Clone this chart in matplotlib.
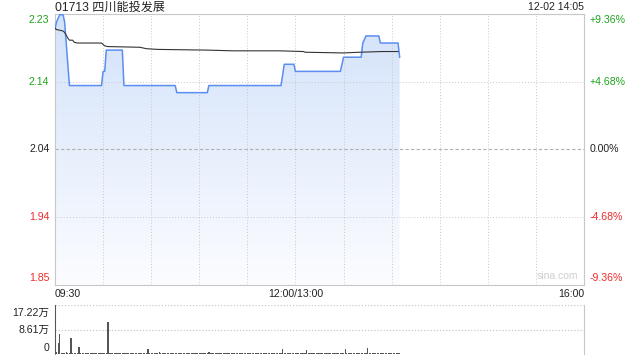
import numpy as np
import matplotlib
matplotlib.use("Agg")
import matplotlib.pyplot as plt
from matplotlib.patches import Polygon

# ---------------- data ----------------
title = "01713 四川能投发展"
stamp = "12-02 14:05"
prev_close = 2.04
pct_levels = [9.36, 4.68, 0.0, -4.68, -9.36]
price_labels = ["2.23", "2.14", "2.04", "1.94", "1.85"]
pct_labels = ["+9.36%", "+4.68%", "0.00%", "-4.68%", "-9.36%"]
x_labels = ["09:30", "12:00/13:00", "16:00"]
x_label_minutes = [0, 150, 330]
session_minutes = 330

price_t = [0, 1, 3, 5, 6, 7, 8, 9, 29, 30, 31, 32, 42, 43, 75, 76, 95, 96, 141, 143,
           149, 150, 178, 179, 180, 191, 192, 194, 202, 203, 214, 215]
price_v = [2.21, 2.22, 2.23, 2.23, 2.22, 2.19, 2.16, 2.13, 2.13, 2.15, 2.15, 2.18, 2.18, 2.13,
           2.13, 2.12, 2.12, 2.13, 2.13, 2.16, 2.16, 2.15, 2.15, 2.16, 2.17, 2.17, 2.19, 2.20,
           2.20, 2.19, 2.19, 2.17]

avg_t = [0, 1, 5, 6, 8, 9, 11, 12, 14, 29, 31, 33, 53, 57, 64, 95, 111, 140, 155, 156,
         180, 190, 204, 214]
avg_v = [2.211, 2.209, 2.207, 2.205, 2.197, 2.194, 2.194, 2.191, 2.190, 2.190, 2.186, 2.185,
         2.184, 2.182, 2.181, 2.180, 2.179, 2.179, 2.178, 2.177, 2.176, 2.177, 2.178, 2.178]

volume = [
    172200, 7000, 41000, 71000, 3500, 3500, 6000, 8000, 6000, 3500,
    57000, 3500, 3000, 3500, 3500, 26000, 3500, 3500, 3000, 3500,
    3500, 3500, 3500, 3000, 3500, 3500, 3500, 3500, 3500, 3500,
    5000, 3500, 3500, 113000, 3500, 3500, 3000, 3500, 3500, 3500,
    3500, 3500, 3500, 4500, 3500, 3500, 3500, 3500, 3000, 3500,
    3500, 3500, 3500, 3500, 3500, 3500, 3500, 3500, 17000, 3500,
    3500, 3500, 3500, 3500, 3500, 8000, 3500, 3500, 3500, 3000,
    3500, 3500, 3500, 3500, 3500, 3500, 3500, 3500, 3500, 3500,
    3500, 3500, 3500, 3500, 3000, 3500, 3500, 3500, 3500, 3500,
    3500, 3500, 3500, 3500, 3500, 3500, 7000, 3500, 3500, 3500,
    3500, 3500, 3500, 3500, 3500, 3500, 3000, 3500, 3500, 3500,
    4500, 3500, 3500, 3500, 3500, 3500, 3500, 3500, 3500, 3500,
    3500, 3500, 3500, 3500, 3500, 3500, 3500, 3000, 3500, 3500,
    3500, 3500, 3500, 3500, 3500, 3500, 3500, 3500, 3500, 3500,
    3500, 3500, 17000, 3500, 3500, 3500, 3500, 3500, 3500, 3500,
    3500, 3500, 3500, 3500, 3500, 3500, 3500, 15000, 3500, 3500,
    3500, 3500, 3500, 3500, 3500, 3000, 3500, 3500, 3500, 3500,
    3500, 3500, 3500, 3500, 3500, 3500, 3500, 3500, 3500, 3500,
    3500, 19000, 3500, 3500, 3500, 3500, 3500, 3500, 3500, 3500,
    3500, 3500, 5000, 3500, 3500, 22000, 3500, 3500, 3500, 3500,
    3500, 3500, 3500, 3500, 3500, 3500, 3500, 3500, 3500, 3500,
    3500, 3500, 3500, 3500, 3500, 6000,
]
vol_max = 172200
vol_labels = ["17.22万", "8.61万", "0"]

# ---------------- style ----------------
W, H = 640, 360
GREEN = "#1fa31f"
RED = "#ee2a2a"
DARK = "#222222"
GRID = "#c8c8c8"
SPINE = "#c8c8c8"
BLUE = "#5b8ef0"
FONT = ["Liberation Sans", "Noto Sans CJK SC", "DejaVu Sans"]
plt.rcParams["font.family"] = FONT

fig = plt.figure(figsize=(W / 100, H / 100), dpi=100)

def fx(px):
    return px / W

def fy(py):
    return 1 - py / H

L, R = 55, 584
T1, B1 = 14, 284.7
T2, B2 = 305, 354.3
ax = fig.add_axes([fx(L), fy(B1), fx(R) - fx(L), fy(T1) - fy(B1)])
axv = fig.add_axes([fx(L), fy(B2), fx(R) - fx(L), fy(T2) - fy(B2)])

ymin = prev_close * (1 + pct_levels[-1] / 100)
ymax = prev_close * (1 + pct_levels[0] / 100)

# gradient fill under price
verts = [(price_t[0], ymin)] + list(zip(price_t, price_v)) + [(price_t[-1], ymin)]
patch = Polygon(verts, closed=True, facecolor="none", edgecolor="none")
ax.add_patch(patch)
top_c = np.array([0.827, 0.886, 0.980])
bot_c = np.array([0.985, 0.990, 1.0])
g = np.linspace(0, 1, 256).reshape(-1, 1, 1)
img = top_c * (1 - g) + bot_c * g
img = np.repeat(img, 2, axis=1)
im = ax.imshow(img, extent=[0, session_minutes, ymin, ymax], aspect="auto",
               origin="upper", zorder=1, interpolation="bilinear")
im.set_clip_path(patch)

ax.plot(price_t, price_v, color=BLUE, lw=1.1, zorder=3)
ax.plot(avg_t, avg_v, color="#333333", lw=0.8, zorder=4)

# grids
for m in range(30, session_minutes, 30):
    ax.axvline(m, color=GRID, lw=0.7, ls=(0, (1, 2)), zorder=2)
for p in pct_levels[1:-1]:
    yv = prev_close * (1 + p / 100)
    if p == 0:
        ax.axhline(yv, color="#b0b0b0", lw=0.8, ls=(0, (3, 2)), zorder=2)
    else:
        ax.axhline(yv, color=GRID, lw=0.7, ls=(0, (1, 2)), zorder=2)

ax.set_xlim(0, session_minutes)
ax.set_ylim(ymin, ymax)
ax.set_xticks([])
ax.set_yticks([])
for s in ax.spines.values():
    s.set_color(SPINE)
    s.set_linewidth(0.8)

# price / pct labels
fs = 7.6
for i, (p, pl, cl) in enumerate(zip(pct_levels, price_labels, pct_labels)):
    col = GREEN if p > 0 else (RED if p < 0 else DARK)
    yv = prev_close * (1 + p / 100)
    va = "top" if i == 0 else ("bottom" if i == len(pct_levels) - 1 else "center")
    off = -1 if i == 0 else (1 if i == len(pct_levels) - 1 else 0)
    ax.annotate(pl, xy=(0, yv), xycoords=("axes fraction", "data"),
                xytext=(-4, off), textcoords="offset points",
                ha="right", va=va, fontsize=fs, color=col)
    ax.annotate(cl, xy=(1, yv), xycoords=("axes fraction", "data"),
                xytext=(4, off), textcoords="offset points",
                ha="left", va=va, fontsize=fs, color=col)

# x labels
for lab, m in zip(x_labels, x_label_minutes):
    ha = "left" if m == 0 else ("right" if m == session_minutes else "center")
    ax.annotate(lab, xy=(m, 0), xycoords=("data", "axes fraction"),
                xytext=(0, -3), textcoords="offset points",
                ha=ha, va="top", fontsize=fs, color=DARK)

ax.text(0.99, 0.012, "sina.com", transform=ax.transAxes, ha="right", va="bottom",
        fontsize=7.5, color="#cfcfcf", zorder=5)

fig.text(fx(55), fy(7.5), title, ha="left", va="center", fontsize=8.7, color=DARK)
fig.text(fx(584), fy(7.5), stamp, ha="right", va="center", fontsize=fs, color=DARK)

# volume
axv.bar(range(len(volume)), volume, width=0.8, color="#555555", linewidth=0, zorder=3)
axv.set_xlim(0, session_minutes)
axv.set_ylim(0, vol_max)
axv.axhline(vol_max, color=GRID, lw=0.9, ls=(0, (1, 1.5)), zorder=1)
axv.axhline(vol_max / 2, color=GRID, lw=0.9, ls=(0, (1, 1.5)), zorder=1)
axv.set_xticks([])
axv.set_yticks([])
axv.spines["top"].set_visible(False)
axv.spines["bottom"].set_visible(False)
axv.spines["right"].set_color(SPINE)
axv.spines["left"].set_color("#999999")
for s in ("left", "right"):
    axv.spines[s].set_linewidth(0.8)
vol_pos = [vol_max, vol_max / 2, 0]
for i, (lab, yv) in enumerate(zip(vol_labels, vol_pos)):
    va = "top" if i == 0 else ("bottom" if i == 2 else "center")
    off = -2 if i == 0 else (1 if i == 2 else 0)
    axv.annotate(lab, xy=(0, yv), xycoords=("axes fraction", "data"),
                 xytext=(-4, off), textcoords="offset points",
                 ha="right", va=va, fontsize=fs, color=DARK)

fig.savefig("out.png", dpi=100)
